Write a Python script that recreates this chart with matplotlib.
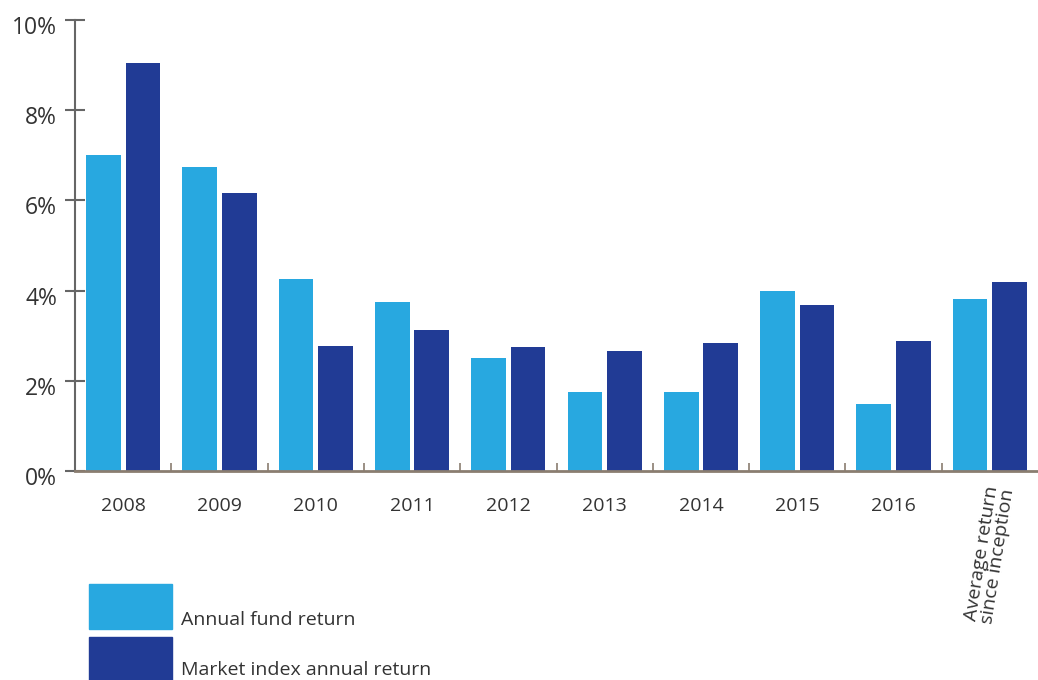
import matplotlib
matplotlib.use('Agg')
import numpy as np
from matplotlib import pyplot as plt
from matplotlib.patches import Rectangle
from matplotlib.transforms import ScaledTranslation

# данные
categories = ['2008', '2009', '2010', '2011', '2012', '2013', '2014', '2015', '2016',
              'Average return\nsince inception']
fund_return = [7.0, 6.75, 4.26, 3.75, 2.5, 1.75, 1.75, 3.99, 1.49, 3.81]
index_return = [9.05, 6.16, 2.77, 3.13, 2.75, 2.66, 2.84, 3.68, 2.88, 4.19]
y_ticks = [0, 2, 4, 6, 8, 10]

LIGHT = '#28a8e0'
DARK = '#213b95'
TEXT = '#333333'

plt.rcParams['font.family'] = ['Open Sans', 'DejaVu Sans']

fig = plt.figure(figsize=(10.38, 6.8), dpi=100)
ax = fig.add_axes([75 / 1038, 1 - 471 / 680, 1 - 75 / 1038, (471 - 20) / 680])

x = np.arange(len(categories))
w = 0.36
ax.bar(x - 0.205, fund_return, w, color=LIGHT, zorder=2)
ax.bar(x + 0.205, index_return, w, color=DARK, zorder=2)

ax.set_xlim(-0.5, len(categories) - 0.5)
ax.set_ylim(0, 10)

for s in ['top', 'right']:
    ax.spines[s].set_visible(False)
ax.spines['left'].set_color('#666666')
ax.spines['left'].set_linewidth(1.5)
ax.spines['bottom'].set_color('#8a7d70')
ax.spines['bottom'].set_linewidth(2)

ax.set_yticks(y_ticks)
ax.set_yticklabels([f'{t}%' for t in y_ticks], fontsize=16.5, color=TEXT)
ax.tick_params(axis='y', direction='inout', length=14, width=1.5, color='#666666', pad=6)
shift = ScaledTranslation(0, -5 / 100, fig.dpi_scale_trans)
for lbl in ax.get_yticklabels():
    lbl.set_transform(lbl.get_transform() + shift)

# подписи по оси X
ax.set_xticks(x[:-1])
ax.set_xticklabels(categories[:-1], fontsize=14, color=TEXT)
ax.tick_params(axis='x', length=0, pad=19)
ax.set_xticks(x[:-1] + 0.5, minor=True)
ax.tick_params(axis='x', which='minor', direction='in', length=6, width=1.2, color='#8a7d70')

ax.text(x[-1], -0.3, categories[-1], rotation=81, ha='center', va='top',
        fontsize=14, color=TEXT, linespacing=0.9, transform=ax.transData)

# легенда
fig.patches.append(Rectangle((89 / 1038, 1 - 629 / 680), 83 / 1038, 45 / 680,
                             transform=fig.transFigure, color=LIGHT))
fig.patches.append(Rectangle((89 / 1038, 1 - 690 / 680), 83 / 1038, 53 / 680,
                             transform=fig.transFigure, color=DARK))
fig.text(181 / 1038, 1 - 620 / 680, 'Annual fund return', fontsize=14, color=TEXT, va='center')
fig.text(181 / 1038, 1 - 670 / 680, 'Market index annual return', fontsize=14, color=TEXT, va='center')

fig.savefig('out.png', dpi=100)
